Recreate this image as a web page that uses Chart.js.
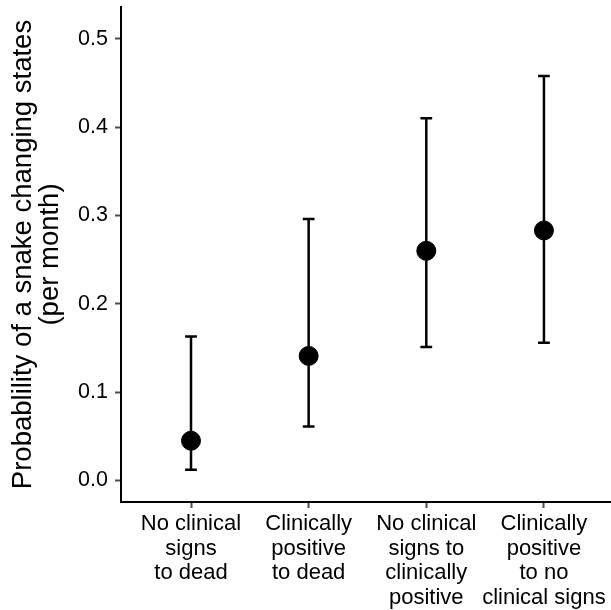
<!DOCTYPE html>
<html>
<head>
<meta charset="utf-8">
<script src="https://cdn.jsdelivr.net/npm/chart.js@4"></script>
<style>
  html, body { margin: 0; padding: 0; background: #fff; }
  canvas { display: block; }
</style>
</head>
<body>
<canvas id="myChart" width="611" height="610"></canvas>
<script>
// transitions (x axis labels, one line per entry)
const categories = [
  ["No clinical", "signs", "to dead"],
  ["Clinically", "positive", "to dead"],
  ["No clinical", "signs to", "clinically", "positive"],
  ["Clinically", "positive", "to no", "clinical signs"],
];
// monthly probability and its interval
const estimate = [0.045, 0.141, 0.260, 0.283];
const lower = [0.012, 0.061, 0.151, 0.156];
const upper = [0.163, 0.296, 0.410, 0.458];
const yTicks = [0.0, 0.1, 0.2, 0.3, 0.4, 0.5];

const FONT = "'Liberation Sans', Arial, Helvetica, sans-serif";

// Barras de error (dibujadas debajo de los puntos)
const errorBars = {
  id: "errorBars",
  beforeDatasetsDraw(chart) {
    const { ctx, scales } = chart;
    const x = scales.x;
    const y = scales.y;
    ctx.save();
    ctx.strokeStyle = "#000";
    ctx.lineWidth = 2.5;
    ctx.lineCap = "butt";
    estimate.forEach((_, i) => {
      const px = x.getPixelForValue(i);
      const left = x.getPixelForValue(i - 0.05);
      const right = x.getPixelForValue(i + 0.05);
      const top = y.getPixelForValue(upper[i]);
      const bottom = y.getPixelForValue(lower[i]);
      ctx.beginPath();
      ctx.moveTo(px, top);
      ctx.lineTo(px, bottom);
      ctx.moveTo(left, top);
      ctx.lineTo(right, top);
      ctx.moveTo(left, bottom);
      ctx.lineTo(right, bottom);
      ctx.stroke();
    });
    ctx.restore();
  },
};

new Chart(document.getElementById("myChart"), {
  type: "scatter",
  data: {
    datasets: [
      {
        data: estimate.map((v, i) => ({ x: i, y: v })),
        backgroundColor: "#000",
        borderColor: "#000",
        pointRadius: 9.5,
        pointHoverRadius: 9.5,
        clip: false,
      },
    ],
  },
  options: {
    responsive: false,
    animation: false,
    events: [],
    layout: { autoPadding: false, padding: { top: 7, left: 0, right: 0, bottom: 0 } },
    plugins: {
      legend: { display: false },
      tooltip: { enabled: false },
    },
    scales: {
      x: {
        type: "linear",
        min: -0.595,
        max: categories.length - 0.43,
        afterBuildTicks: (scale) => {
          scale.ticks = categories.map((c, i) => ({ value: i }));
        },
        afterFit: (scale) => {
          scale.height = 108;
          scale.paddingLeft = 0;
          scale.paddingRight = 0;
        },
        ticks: {
          callback: (value) => categories[value],
          color: "#000",
          font: { family: FONT, size: 22, lineHeight: 1.115 },
          padding: 4,
          maxRotation: 0,
          autoSkip: false,
        },
        grid: {
          display: true,
          drawOnChartArea: false,
          drawTicks: true,
          tickLength: 6,
          tickColor: "#4d4d4d",
          tickWidth: 2,
        },
        border: { display: true, color: "#000", width: 2 },
      },
      y: {
        min: -0.0244,
        max: 0.536,
        afterBuildTicks: (scale) => {
          scale.ticks = yTicks.map((v) => ({ value: v }));
        },
        afterFit: (scale) => {
          scale.width = 121;
          scale.paddingTop = 0;
          scale.paddingBottom = 0;
        },
        ticks: {
          callback: (value) => value.toFixed(1),
          color: "#000",
          font: { family: FONT, size: 21.5 },
          padding: 7,
        },
        grid: {
          display: true,
          drawOnChartArea: false,
          drawTicks: true,
          tickLength: 6,
          tickColor: "#4d4d4d",
          tickWidth: 2,
        },
        border: { display: true, color: "#000", width: 2 },
        title: {
          display: true,
          text: ["Probablility of a snake changing states", "(per month)"],
          color: "#000",
          font: { family: FONT, size: 27.5, lineHeight: 1.0 },
          padding: { top: 9.5, bottom: 0 },
        },
      },
    },
  },
  plugins: [errorBars],
});
</script>
</body>
</html>
